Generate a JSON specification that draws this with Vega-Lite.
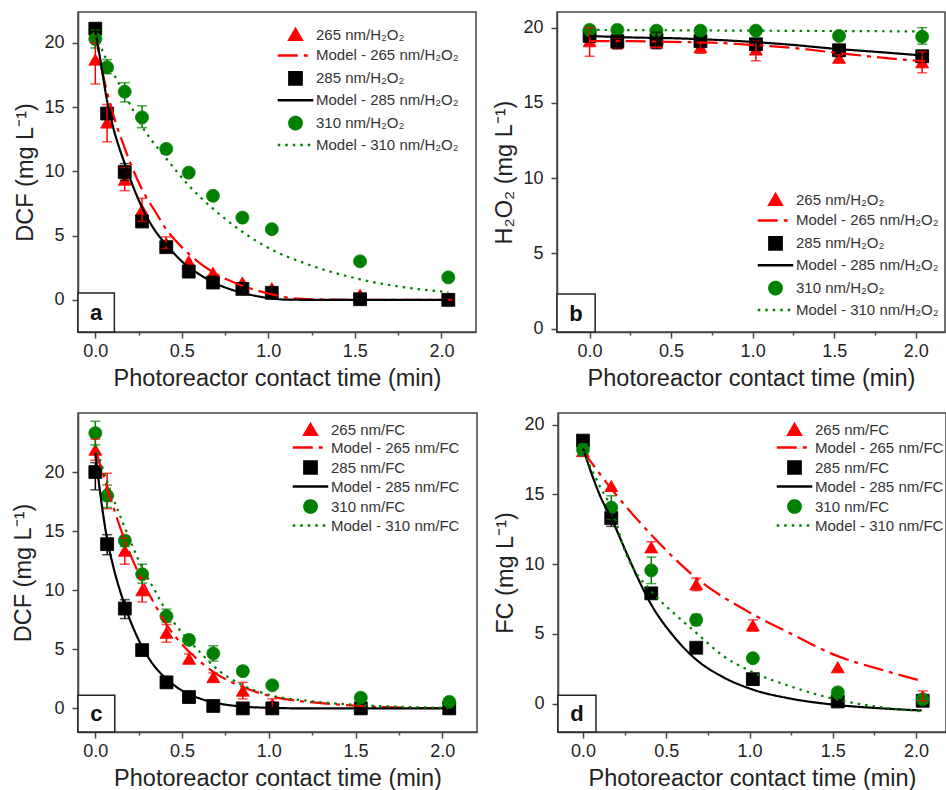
{
  "$schema": "https://vega.github.io/schema/vega-lite/v6.json",
  "padding": {"left": 11, "top": 11, "right": 0, "bottom": 0},
  "config": {
    "font": "Liberation Sans",
    "view": {"stroke": "#444", "strokeWidth": 1.5},
    "axis": {"domainColor": "#444", "domainWidth": 1.5, "tickColor": "#444", "tickWidth": 1.5, "labelColor": "#222", "titleColor": "#222", "titleFontWeight": "normal", "labelFontSize": 18, "titleFontSize": 23.5, "grid": false, "labelFont": "Liberation Sans", "titleFont": "Liberation Sans", "labelOverlap": false, "labelFlush": false}
  },
  "datasets": {
    "a_pts": [
      {"s": "265 nm/H₂O₂", "t": 0, "v": 18.7, "lo": 16.8, "hi": 20.0},
      {"s": "265 nm/H₂O₂", "t": 0.068, "v": 13.8, "lo": 12.3, "hi": 15.2},
      {"s": "265 nm/H₂O₂", "t": 0.17, "v": 9.35, "lo": 8.5, "hi": 10.3},
      {"s": "265 nm/H₂O₂", "t": 0.27, "v": 7.0, "lo": 6.1, "hi": 7.9},
      {"s": "265 nm/H₂O₂", "t": 0.41, "v": 4.4, "lo": 4.0, "hi": 4.9},
      {"s": "265 nm/H₂O₂", "t": 0.54, "v": 3.0},
      {"s": "265 nm/H₂O₂", "t": 0.68, "v": 2.1},
      {"s": "265 nm/H₂O₂", "t": 0.85, "v": 1.35},
      {"s": "265 nm/H₂O₂", "t": 1.02, "v": 0.9},
      {"s": "265 nm/H₂O₂", "t": 1.53, "v": 0.4},
      {"s": "265 nm/H₂O₂", "t": 2.04, "v": 0.0},
      {"s": "285 nm/H₂O₂", "t": 0, "v": 21.1},
      {"s": "285 nm/H₂O₂", "t": 0.068, "v": 14.5},
      {"s": "285 nm/H₂O₂", "t": 0.17, "v": 9.95, "lo": 9.3, "hi": 10.6},
      {"s": "285 nm/H₂O₂", "t": 0.27, "v": 6.1},
      {"s": "285 nm/H₂O₂", "t": 0.41, "v": 4.1},
      {"s": "285 nm/H₂O₂", "t": 0.54, "v": 2.2},
      {"s": "285 nm/H₂O₂", "t": 0.68, "v": 1.35},
      {"s": "285 nm/H₂O₂", "t": 0.85, "v": 0.85},
      {"s": "285 nm/H₂O₂", "t": 1.02, "v": 0.55},
      {"s": "285 nm/H₂O₂", "t": 1.53, "v": 0.05},
      {"s": "285 nm/H₂O₂", "t": 2.04, "v": 0.0},
      {"s": "310 nm/H₂O₂", "t": 0, "v": 20.3, "lo": 19.6, "hi": 21.0},
      {"s": "310 nm/H₂O₂", "t": 0.068, "v": 18.1, "lo": 17.6, "hi": 18.7},
      {"s": "310 nm/H₂O₂", "t": 0.17, "v": 16.2, "lo": 15.4, "hi": 16.9},
      {"s": "310 nm/H₂O₂", "t": 0.27, "v": 14.2, "lo": 13.4, "hi": 15.1},
      {"s": "310 nm/H₂O₂", "t": 0.41, "v": 11.75},
      {"s": "310 nm/H₂O₂", "t": 0.54, "v": 9.9},
      {"s": "310 nm/H₂O₂", "t": 0.68, "v": 8.1},
      {"s": "310 nm/H₂O₂", "t": 0.85, "v": 6.4},
      {"s": "310 nm/H₂O₂", "t": 1.02, "v": 5.5},
      {"s": "310 nm/H₂O₂", "t": 1.53, "v": 3.0},
      {"s": "310 nm/H₂O₂", "t": 2.04, "v": 1.75}
    ],
    "a_mod": [
      {"s": "Model - 265 nm/H₂O₂", "t": 0, "v": 20.8},
      {"s": "Model - 265 nm/H₂O₂", "t": 0.05, "v": 17.2},
      {"s": "Model - 265 nm/H₂O₂", "t": 0.1, "v": 14.6},
      {"s": "Model - 265 nm/H₂O₂", "t": 0.17, "v": 11.8},
      {"s": "Model - 265 nm/H₂O₂", "t": 0.27, "v": 8.6},
      {"s": "Model - 265 nm/H₂O₂", "t": 0.35, "v": 6.8},
      {"s": "Model - 265 nm/H₂O₂", "t": 0.41, "v": 5.5},
      {"s": "Model - 265 nm/H₂O₂", "t": 0.5, "v": 4.1},
      {"s": "Model - 265 nm/H₂O₂", "t": 0.6, "v": 2.9},
      {"s": "Model - 265 nm/H₂O₂", "t": 0.7, "v": 2.0},
      {"s": "Model - 265 nm/H₂O₂", "t": 0.85, "v": 1.1},
      {"s": "Model - 265 nm/H₂O₂", "t": 1.0, "v": 0.5},
      {"s": "Model - 265 nm/H₂O₂", "t": 1.1, "v": 0.2},
      {"s": "Model - 265 nm/H₂O₂", "t": 1.25, "v": 0.05},
      {"s": "Model - 265 nm/H₂O₂", "t": 1.5, "v": 0.0},
      {"s": "Model - 265 nm/H₂O₂", "t": 2.06, "v": 0.0},
      {"s": "Model - 285 nm/H₂O₂", "t": 0, "v": 21.0},
      {"s": "Model - 285 nm/H₂O₂", "t": 0.03, "v": 18.6},
      {"s": "Model - 285 nm/H₂O₂", "t": 0.068, "v": 15.5},
      {"s": "Model - 285 nm/H₂O₂", "t": 0.1, "v": 13.6},
      {"s": "Model - 285 nm/H₂O₂", "t": 0.17, "v": 10.6},
      {"s": "Model - 285 nm/H₂O₂", "t": 0.27, "v": 7.2},
      {"s": "Model - 285 nm/H₂O₂", "t": 0.35, "v": 5.3},
      {"s": "Model - 285 nm/H₂O₂", "t": 0.41, "v": 4.3},
      {"s": "Model - 285 nm/H₂O₂", "t": 0.5, "v": 3.0},
      {"s": "Model - 285 nm/H₂O₂", "t": 0.6, "v": 2.0},
      {"s": "Model - 285 nm/H₂O₂", "t": 0.7, "v": 1.25},
      {"s": "Model - 285 nm/H₂O₂", "t": 0.85, "v": 0.55},
      {"s": "Model - 285 nm/H₂O₂", "t": 1.0, "v": 0.15},
      {"s": "Model - 285 nm/H₂O₂", "t": 1.1, "v": 0.02},
      {"s": "Model - 285 nm/H₂O₂", "t": 1.3, "v": 0.0},
      {"s": "Model - 285 nm/H₂O₂", "t": 2.04, "v": 0.0},
      {"s": "Model - 310 nm/H₂O₂", "t": 0, "v": 20.6},
      {"s": "Model - 310 nm/H₂O₂", "t": 0.068, "v": 18.6},
      {"s": "Model - 310 nm/H₂O₂", "t": 0.17, "v": 16.0},
      {"s": "Model - 310 nm/H₂O₂", "t": 0.27, "v": 13.5},
      {"s": "Model - 310 nm/H₂O₂", "t": 0.41, "v": 11.0},
      {"s": "Model - 310 nm/H₂O₂", "t": 0.54, "v": 8.9},
      {"s": "Model - 310 nm/H₂O₂", "t": 0.68, "v": 7.1},
      {"s": "Model - 310 nm/H₂O₂", "t": 0.85, "v": 5.3},
      {"s": "Model - 310 nm/H₂O₂", "t": 1.02, "v": 3.9},
      {"s": "Model - 310 nm/H₂O₂", "t": 1.2, "v": 2.9},
      {"s": "Model - 310 nm/H₂O₂", "t": 1.53, "v": 1.6},
      {"s": "Model - 310 nm/H₂O₂", "t": 1.8, "v": 0.95},
      {"s": "Model - 310 nm/H₂O₂", "t": 2.04, "v": 0.6}
    ],
    "a_box": [{"t": -0.1, "t2": 0.11, "v": -2.5, "v2": 0.54}],
    "a_lab": [{"t": 0.005, "v": -1.0, "lab": "a"}],
    "b_pts": [
      {"s": "265 nm/H₂O₂", "t": 0, "v": 19.1, "lo": 18.1, "hi": 20.0},
      {"s": "265 nm/H₂O₂", "t": 0.17, "v": 19.0, "lo": 18.6, "hi": 19.3},
      {"s": "265 nm/H₂O₂", "t": 0.41, "v": 19.0, "lo": 18.7, "hi": 19.3},
      {"s": "265 nm/H₂O₂", "t": 0.68, "v": 18.7, "lo": 18.3, "hi": 19.0},
      {"s": "265 nm/H₂O₂", "t": 1.02, "v": 18.55, "lo": 17.8, "hi": 19.1},
      {"s": "265 nm/H₂O₂", "t": 1.53, "v": 18.0, "lo": 17.8, "hi": 18.2},
      {"s": "265 nm/H₂O₂", "t": 2.04, "v": 17.7, "lo": 17.0, "hi": 18.4},
      {"s": "285 nm/H₂O₂", "t": 0, "v": 19.45},
      {"s": "285 nm/H₂O₂", "t": 0.17, "v": 19.1, "lo": 18.6, "hi": 19.5},
      {"s": "285 nm/H₂O₂", "t": 0.41, "v": 19.2, "lo": 18.6, "hi": 19.7},
      {"s": "285 nm/H₂O₂", "t": 0.68, "v": 19.1},
      {"s": "285 nm/H₂O₂", "t": 1.02, "v": 18.9},
      {"s": "285 nm/H₂O₂", "t": 1.53, "v": 18.5},
      {"s": "285 nm/H₂O₂", "t": 2.04, "v": 18.1},
      {"s": "310 nm/H₂O₂", "t": 0, "v": 19.85},
      {"s": "310 nm/H₂O₂", "t": 0.17, "v": 19.85},
      {"s": "310 nm/H₂O₂", "t": 0.41, "v": 19.8},
      {"s": "310 nm/H₂O₂", "t": 0.68, "v": 19.8},
      {"s": "310 nm/H₂O₂", "t": 1.02, "v": 19.8},
      {"s": "310 nm/H₂O₂", "t": 1.53, "v": 19.45},
      {"s": "310 nm/H₂O₂", "t": 2.04, "v": 19.4, "lo": 18.9, "hi": 20.0}
    ],
    "b_mod": [
      {"s": "Model - 265 nm/H₂O₂", "t": 0, "v": 19.1},
      {"s": "Model - 265 nm/H₂O₂", "t": 0.25, "v": 19.1},
      {"s": "Model - 265 nm/H₂O₂", "t": 0.5, "v": 19.05},
      {"s": "Model - 265 nm/H₂O₂", "t": 0.75, "v": 19.0},
      {"s": "Model - 265 nm/H₂O₂", "t": 1.0, "v": 18.85},
      {"s": "Model - 265 nm/H₂O₂", "t": 1.25, "v": 18.65},
      {"s": "Model - 265 nm/H₂O₂", "t": 1.5, "v": 18.35},
      {"s": "Model - 265 nm/H₂O₂", "t": 1.75, "v": 18.05},
      {"s": "Model - 265 nm/H₂O₂", "t": 2.06, "v": 17.75},
      {"s": "Model - 285 nm/H₂O₂", "t": 0, "v": 19.45},
      {"s": "Model - 285 nm/H₂O₂", "t": 0.25, "v": 19.35},
      {"s": "Model - 285 nm/H₂O₂", "t": 0.5, "v": 19.3},
      {"s": "Model - 285 nm/H₂O₂", "t": 0.75, "v": 19.2},
      {"s": "Model - 285 nm/H₂O₂", "t": 1.0, "v": 19.05},
      {"s": "Model - 285 nm/H₂O₂", "t": 1.25, "v": 18.85},
      {"s": "Model - 285 nm/H₂O₂", "t": 1.5, "v": 18.6},
      {"s": "Model - 285 nm/H₂O₂", "t": 1.75, "v": 18.4},
      {"s": "Model - 285 nm/H₂O₂", "t": 2.04, "v": 18.15},
      {"s": "Model - 310 nm/H₂O₂", "t": 0, "v": 19.85},
      {"s": "Model - 310 nm/H₂O₂", "t": 1.0, "v": 19.8},
      {"s": "Model - 310 nm/H₂O₂", "t": 2.04, "v": 19.75}
    ],
    "b_box": [{"t": -0.2, "t2": 0.034, "v": -0.22, "v2": 2.3}],
    "b_lab": [{"t": -0.083, "v": 0.95, "lab": "b"}],
    "c_pts": [
      {"s": "265 nm/FC", "t": 0, "v": 21.9, "lo": 21.0, "hi": 22.8},
      {"s": "265 nm/FC", "t": 0.068, "v": 18.4, "lo": 16.9, "hi": 19.9},
      {"s": "265 nm/FC", "t": 0.17, "v": 13.35, "lo": 12.2, "hi": 14.4},
      {"s": "265 nm/FC", "t": 0.27, "v": 10.0, "lo": 9.0, "hi": 11.0},
      {"s": "265 nm/FC", "t": 0.41, "v": 6.4, "lo": 5.6, "hi": 7.1},
      {"s": "265 nm/FC", "t": 0.54, "v": 4.2, "lo": 3.9, "hi": 4.6},
      {"s": "265 nm/FC", "t": 0.68, "v": 2.65, "lo": 2.3, "hi": 3.0},
      {"s": "265 nm/FC", "t": 0.85, "v": 1.5, "lo": 0.8, "hi": 2.2},
      {"s": "265 nm/FC", "t": 1.02, "v": 0.35, "lo": 0.0, "hi": 0.8},
      {"s": "265 nm/FC", "t": 1.53, "v": 0.05},
      {"s": "265 nm/FC", "t": 2.04, "v": 0.0},
      {"s": "285 nm/FC", "t": 0, "v": 20.0, "lo": 18.5, "hi": 20.8},
      {"s": "285 nm/FC", "t": 0.068, "v": 13.9, "lo": 13.0, "hi": 14.7},
      {"s": "285 nm/FC", "t": 0.17, "v": 8.45, "lo": 7.6, "hi": 9.2},
      {"s": "285 nm/FC", "t": 0.27, "v": 4.93},
      {"s": "285 nm/FC", "t": 0.41, "v": 2.2},
      {"s": "285 nm/FC", "t": 0.54, "v": 0.96},
      {"s": "285 nm/FC", "t": 0.68, "v": 0.2},
      {"s": "285 nm/FC", "t": 0.85, "v": 0.0},
      {"s": "285 nm/FC", "t": 1.02, "v": 0.0},
      {"s": "285 nm/FC", "t": 1.53, "v": 0.0},
      {"s": "285 nm/FC", "t": 2.04, "v": 0.0},
      {"s": "310 nm/FC", "t": 0, "v": 23.3, "lo": 22.3, "hi": 24.3},
      {"s": "310 nm/FC", "t": 0.068, "v": 18.0, "lo": 17.0, "hi": 18.9},
      {"s": "310 nm/FC", "t": 0.17, "v": 14.2, "lo": 13.7, "hi": 14.6},
      {"s": "310 nm/FC", "t": 0.27, "v": 11.35, "lo": 10.6, "hi": 12.2},
      {"s": "310 nm/FC", "t": 0.41, "v": 7.8, "lo": 7.3, "hi": 8.4},
      {"s": "310 nm/FC", "t": 0.54, "v": 5.8},
      {"s": "310 nm/FC", "t": 0.68, "v": 4.65, "lo": 4.0, "hi": 5.3},
      {"s": "310 nm/FC", "t": 0.85, "v": 3.15, "lo": 2.8, "hi": 3.5},
      {"s": "310 nm/FC", "t": 1.02, "v": 1.95},
      {"s": "310 nm/FC", "t": 1.53, "v": 0.9},
      {"s": "310 nm/FC", "t": 2.04, "v": 0.55}
    ],
    "c_mod": [
      {"s": "Model - 265 nm/FC", "t": 0, "v": 22.0},
      {"s": "Model - 265 nm/FC", "t": 0.068, "v": 18.7},
      {"s": "Model - 265 nm/FC", "t": 0.17, "v": 14.2},
      {"s": "Model - 265 nm/FC", "t": 0.27, "v": 10.8},
      {"s": "Model - 265 nm/FC", "t": 0.35, "v": 8.6},
      {"s": "Model - 265 nm/FC", "t": 0.41, "v": 7.1},
      {"s": "Model - 265 nm/FC", "t": 0.5, "v": 5.4},
      {"s": "Model - 265 nm/FC", "t": 0.6, "v": 4.0},
      {"s": "Model - 265 nm/FC", "t": 0.7, "v": 2.9},
      {"s": "Model - 265 nm/FC", "t": 0.85, "v": 1.8},
      {"s": "Model - 265 nm/FC", "t": 1.02, "v": 1.0},
      {"s": "Model - 265 nm/FC", "t": 1.3, "v": 0.45},
      {"s": "Model - 265 nm/FC", "t": 1.53, "v": 0.2},
      {"s": "Model - 265 nm/FC", "t": 1.8, "v": 0.05},
      {"s": "Model - 265 nm/FC", "t": 2.06, "v": 0.0},
      {"s": "Model - 285 nm/FC", "t": 0, "v": 21.6},
      {"s": "Model - 285 nm/FC", "t": 0.03, "v": 18.0},
      {"s": "Model - 285 nm/FC", "t": 0.068, "v": 14.3},
      {"s": "Model - 285 nm/FC", "t": 0.1, "v": 12.2},
      {"s": "Model - 285 nm/FC", "t": 0.17, "v": 8.7},
      {"s": "Model - 285 nm/FC", "t": 0.27, "v": 5.2},
      {"s": "Model - 285 nm/FC", "t": 0.35, "v": 3.4},
      {"s": "Model - 285 nm/FC", "t": 0.41, "v": 2.5},
      {"s": "Model - 285 nm/FC", "t": 0.5, "v": 1.5},
      {"s": "Model - 285 nm/FC", "t": 0.6, "v": 0.85},
      {"s": "Model - 285 nm/FC", "t": 0.7, "v": 0.45},
      {"s": "Model - 285 nm/FC", "t": 0.85, "v": 0.15},
      {"s": "Model - 285 nm/FC", "t": 1.0, "v": 0.05},
      {"s": "Model - 285 nm/FC", "t": 1.2, "v": 0.0},
      {"s": "Model - 285 nm/FC", "t": 2.04, "v": 0.0},
      {"s": "Model - 310 nm/FC", "t": 0, "v": 22.3},
      {"s": "Model - 310 nm/FC", "t": 0.068, "v": 19.2},
      {"s": "Model - 310 nm/FC", "t": 0.17, "v": 15.3},
      {"s": "Model - 310 nm/FC", "t": 0.27, "v": 11.9},
      {"s": "Model - 310 nm/FC", "t": 0.35, "v": 9.8},
      {"s": "Model - 310 nm/FC", "t": 0.41, "v": 8.2},
      {"s": "Model - 310 nm/FC", "t": 0.5, "v": 6.4},
      {"s": "Model - 310 nm/FC", "t": 0.6, "v": 4.8},
      {"s": "Model - 310 nm/FC", "t": 0.68, "v": 3.6},
      {"s": "Model - 310 nm/FC", "t": 0.85, "v": 1.95},
      {"s": "Model - 310 nm/FC", "t": 1.0, "v": 1.15},
      {"s": "Model - 310 nm/FC", "t": 1.25, "v": 0.6},
      {"s": "Model - 310 nm/FC", "t": 1.5, "v": 0.3},
      {"s": "Model - 310 nm/FC", "t": 2.04, "v": 0.05}
    ],
    "c_box": [{"t": -0.1, "t2": 0.112, "v": -2.0, "v2": 1.12}],
    "c_lab": [{"t": 0.006, "v": -0.44, "lab": "c"}],
    "d_pts": [
      {"s": "265 nm/FC", "t": 0, "v": 18.1},
      {"s": "265 nm/FC", "t": 0.17, "v": 15.6},
      {"s": "265 nm/FC", "t": 0.41, "v": 11.2, "lo": 10.9, "hi": 11.6},
      {"s": "265 nm/FC", "t": 0.68, "v": 8.55, "lo": 8.1, "hi": 9.0},
      {"s": "265 nm/FC", "t": 1.02, "v": 5.6, "lo": 5.2, "hi": 6.0},
      {"s": "265 nm/FC", "t": 1.53, "v": 2.6},
      {"s": "265 nm/FC", "t": 2.04, "v": 0.5, "lo": 0.2, "hi": 0.9},
      {"s": "285 nm/FC", "t": 0, "v": 18.85},
      {"s": "285 nm/FC", "t": 0.17, "v": 13.3, "lo": 12.7, "hi": 13.6},
      {"s": "285 nm/FC", "t": 0.41, "v": 7.9},
      {"s": "285 nm/FC", "t": 0.68, "v": 4.0},
      {"s": "285 nm/FC", "t": 1.02, "v": 1.75},
      {"s": "285 nm/FC", "t": 1.53, "v": 0.15},
      {"s": "285 nm/FC", "t": 2.04, "v": 0.2},
      {"s": "310 nm/FC", "t": 0, "v": 18.2, "lo": 17.8, "hi": 18.6},
      {"s": "310 nm/FC", "t": 0.17, "v": 14.05, "lo": 13.2, "hi": 14.9},
      {"s": "310 nm/FC", "t": 0.41, "v": 9.55, "lo": 8.6, "hi": 10.5},
      {"s": "310 nm/FC", "t": 0.68, "v": 6.0, "lo": 5.6, "hi": 6.4},
      {"s": "310 nm/FC", "t": 1.02, "v": 3.25},
      {"s": "310 nm/FC", "t": 1.53, "v": 0.8, "lo": 0.4, "hi": 1.1},
      {"s": "310 nm/FC", "t": 2.04, "v": 0.3}
    ],
    "d_mod": [
      {"s": "Model - 265 nm/FC", "t": 0, "v": 18.1},
      {"s": "Model - 265 nm/FC", "t": 0.17, "v": 15.4},
      {"s": "Model - 265 nm/FC", "t": 0.41, "v": 12.1},
      {"s": "Model - 265 nm/FC", "t": 0.68, "v": 9.0},
      {"s": "Model - 265 nm/FC", "t": 1.02, "v": 6.4},
      {"s": "Model - 265 nm/FC", "t": 1.25, "v": 5.0},
      {"s": "Model - 265 nm/FC", "t": 1.53, "v": 3.4},
      {"s": "Model - 265 nm/FC", "t": 1.8, "v": 2.4},
      {"s": "Model - 265 nm/FC", "t": 2.04, "v": 1.6},
      {"s": "Model - 285 nm/FC", "t": 0, "v": 18.3},
      {"s": "Model - 285 nm/FC", "t": 0.104, "v": 14.86},
      {"s": "Model - 285 nm/FC", "t": 0.174, "v": 13.19},
      {"s": "Model - 285 nm/FC", "t": 0.244, "v": 11.28},
      {"s": "Model - 285 nm/FC", "t": 0.324, "v": 9.13},
      {"s": "Model - 285 nm/FC", "t": 0.404, "v": 7.22},
      {"s": "Model - 285 nm/FC", "t": 0.544, "v": 4.83},
      {"s": "Model - 285 nm/FC", "t": 0.68, "v": 3.15},
      {"s": "Model - 285 nm/FC", "t": 0.844, "v": 1.88},
      {"s": "Model - 285 nm/FC", "t": 1.02, "v": 1.0},
      {"s": "Model - 285 nm/FC", "t": 1.244, "v": 0.36},
      {"s": "Model - 285 nm/FC", "t": 1.524, "v": -0.1},
      {"s": "Model - 285 nm/FC", "t": 1.8, "v": -0.35},
      {"s": "Model - 285 nm/FC", "t": 2.034, "v": -0.5},
      {"s": "Model - 310 nm/FC", "t": 0, "v": 18.1},
      {"s": "Model - 310 nm/FC", "t": 0.1, "v": 15.6},
      {"s": "Model - 310 nm/FC", "t": 0.174, "v": 13.9},
      {"s": "Model - 310 nm/FC", "t": 0.25, "v": 11.0},
      {"s": "Model - 310 nm/FC", "t": 0.41, "v": 8.05},
      {"s": "Model - 310 nm/FC", "t": 0.544, "v": 6.5},
      {"s": "Model - 310 nm/FC", "t": 0.68, "v": 5.07},
      {"s": "Model - 310 nm/FC", "t": 0.844, "v": 3.4},
      {"s": "Model - 310 nm/FC", "t": 1.02, "v": 2.25},
      {"s": "Model - 310 nm/FC", "t": 1.244, "v": 1.24},
      {"s": "Model - 310 nm/FC", "t": 1.524, "v": 0.29},
      {"s": "Model - 310 nm/FC", "t": 1.744, "v": -0.19},
      {"s": "Model - 310 nm/FC", "t": 2.034, "v": -0.55}
    ],
    "d_box": [{"t": -0.15, "t2": 0.078, "v": -2.04, "v2": 0.6}],
    "d_lab": [{"t": -0.036, "v": -0.72, "lab": "d"}]
  },
  "resolve": {"scale": {"color": "independent", "stroke": "independent", "shape": "independent", "strokeDash": "independent"}, "legend": {"color": "independent", "stroke": "independent", "shape": "independent", "strokeDash": "independent"}},
  "spacing": 21,
  "vconcat": [
    {
      "spacing": 15,
      "resolve": {"scale": {"color": "independent", "stroke": "independent", "shape": "independent", "strokeDash": "independent"}, "legend": {"color": "independent", "stroke": "independent", "shape": "independent", "strokeDash": "independent"}},
      "hconcat": [
        {
          "width": 398, "height": 320,
          "layer": [
            {"data": {"name": "a_box"}, "mark": {"type": "rect", "fill": "white", "stroke": "#222", "strokeWidth": 1.5},
             "encoding": {
               "x": {"field": "t", "type": "quantitative", "scale": {"domain": [-0.1, 2.2], "nice": false, "zero": false}, "title": "Photoreactor contact time (min)",
                     "axis": {"values": [0, 0.25, 0.5, 0.75, 1, 1.25, 1.5, 1.75, 2], "labelExpr": "datum.value % 0.5 === 0 ? format(datum.value, '.1f') : ''", "tickSize": {"condition": {"test": "datum.value % 0.5 === 0", "value": 6}, "value": 3}, "labelPadding": 4, "titlePadding": 6}},
               "x2": {"field": "t2"},
               "y": {"field": "v", "type": "quantitative", "scale": {"domain": [-2.5, 22.4], "nice": false, "zero": false}, "title": "DCF (mg L⁻¹)",
                     "axis": {"values": [0, 2.5, 5, 7.5, 10, 12.5, 15, 17.5, 20], "labelExpr": "datum.value % 5 === 0 ? format(datum.value, 'd') : ''", "tickSize": {"condition": {"test": "datum.value % 5 === 0", "value": 6}, "value": 3}, "labelPadding": 8, "titlePadding": 6}},
               "y2": {"field": "v2"}}},
            {"data": {"name": "a_lab"}, "mark": {"type": "text", "fontSize": 22, "fontWeight": "bold", "color": "#111", "align": "center", "baseline": "middle"},
             "encoding": {"x": {"field": "t", "type": "quantitative", "title": "Photoreactor contact time (min)"}, "y": {"field": "v", "type": "quantitative", "title": "DCF (mg L⁻¹)"}, "text": {"field": "lab"}}},
            {"data": {"name": "a_pts"}, "mark": {"type": "point", "filled": true, "size": 165, "opacity": 1, "strokeWidth": 1},
             "encoding": {"x": {"field": "t", "type": "quantitative", "title": "Photoreactor contact time (min)"}, "y": {"field": "v", "type": "quantitative", "title": "DCF (mg L⁻¹)"},
               "color": {"field": "s", "type": "nominal", "scale": {"domain": ["265 nm/H₂O₂", "Model - 265 nm/H₂O₂", "285 nm/H₂O₂", "Model - 285 nm/H₂O₂", "310 nm/H₂O₂", "Model - 310 nm/H₂O₂"], "range": ["#ff0000", "#ff0000", "#000000", "#000000", "#008000", "#008000"]}, "legend": {"orient": "none", "legendX": 210, "legendY": 15, "title": null, "padding": 0, "rowPadding": 2.9, "labelOffset": 13, "symbolSize": 150, "symbolStrokeWidth": 2.5, "labelFontSize": 15, "labelFont": "Liberation Sans", "labelColor": "#333", "labelLimit": 400}},
               "stroke": {"field": "s", "type": "nominal", "scale": {"domain": ["265 nm/H₂O₂", "Model - 265 nm/H₂O₂", "285 nm/H₂O₂", "Model - 285 nm/H₂O₂", "310 nm/H₂O₂", "Model - 310 nm/H₂O₂"], "range": ["#ff0000", "#ff0000", "#000000", "#000000", "#008000", "#008000"]}, "legend": {"orient": "none", "legendX": 210, "legendY": 15, "title": null, "padding": 0, "rowPadding": 2.9, "labelOffset": 13, "symbolSize": 150, "symbolStrokeWidth": 2.5, "labelFontSize": 15, "labelFont": "Liberation Sans", "labelColor": "#333", "labelLimit": 400}},
               "shape": {"field": "s", "type": "nominal", "scale": {"domain": ["265 nm/H₂O₂", "Model - 265 nm/H₂O₂", "285 nm/H₂O₂", "Model - 285 nm/H₂O₂", "310 nm/H₂O₂", "Model - 310 nm/H₂O₂"], "range": ["triangle-up", "M-2.9,0H2.9", "square", "M-2.9,0H2.9", "circle", "M-2.9,0H2.9"]}, "legend": {"orient": "none", "legendX": 210, "legendY": 15, "title": null, "padding": 0, "rowPadding": 2.9, "labelOffset": 13, "symbolSize": 150, "symbolStrokeWidth": 2.5, "labelFontSize": 15, "labelFont": "Liberation Sans", "labelColor": "#333", "labelLimit": 400}},
               "strokeDash": {"field": "s", "type": "nominal", "scale": {"domain": ["265 nm/H₂O₂", "Model - 265 nm/H₂O₂", "285 nm/H₂O₂", "Model - 285 nm/H₂O₂", "310 nm/H₂O₂", "Model - 310 nm/H₂O₂"], "range": [[1, 0], [20, 6, 4, 6], [1, 0], [1, 0], [1, 0], [2.5, 5]]}, "legend": {"orient": "none", "legendX": 210, "legendY": 15, "title": null, "padding": 0, "rowPadding": 2.9, "labelOffset": 13, "symbolSize": 150, "symbolStrokeWidth": 2.5, "labelFontSize": 15, "labelFont": "Liberation Sans", "labelColor": "#333", "labelLimit": 400}}}},
            {"data": {"name": "a_pts"}, "mark": {"type": "rule", "strokeWidth": 1.5},
             "encoding": {"x": {"field": "t", "type": "quantitative", "title": "Photoreactor contact time (min)"}, "y": {"field": "lo", "type": "quantitative", "title": "DCF (mg L⁻¹)"}, "y2": {"field": "hi"},
               "color": {"field": "s", "type": "nominal"}}},
            {"data": {"name": "a_pts"}, "mark": {"type": "tick", "orient": "horizontal", "size": 10, "thickness": 1.5},
             "encoding": {"x": {"field": "t", "type": "quantitative", "title": "Photoreactor contact time (min)"}, "y": {"field": "lo", "type": "quantitative", "title": "DCF (mg L⁻¹)"},
               "color": {"field": "s", "type": "nominal"}}},
            {"data": {"name": "a_pts"}, "mark": {"type": "tick", "orient": "horizontal", "size": 10, "thickness": 1.5},
             "encoding": {"x": {"field": "t", "type": "quantitative", "title": "Photoreactor contact time (min)"}, "y": {"field": "hi", "type": "quantitative", "title": "DCF (mg L⁻¹)"},
               "color": {"field": "s", "type": "nominal"}}},
            {"data": {"name": "a_mod"}, "mark": {"type": "line", "strokeWidth": 2.2, "interpolate": "monotone"},
             "encoding": {"x": {"field": "t", "type": "quantitative", "title": "Photoreactor contact time (min)"}, "y": {"field": "v", "type": "quantitative", "title": "DCF (mg L⁻¹)"},
               "color": {"field": "s", "type": "nominal"},
               "strokeDash": {"field": "s", "type": "nominal"}}}
          ]
        },
        {
          "width": 388, "height": 320,
          "layer": [
            {"data": {"name": "b_box"}, "mark": {"type": "rect", "fill": "white", "stroke": "#222", "strokeWidth": 1.5},
             "encoding": {
               "x": {"field": "t", "type": "quantitative", "scale": {"domain": [-0.2, 2.18], "nice": false, "zero": false}, "title": "Photoreactor contact time (min)",
                     "axis": {"values": [0, 0.25, 0.5, 0.75, 1, 1.25, 1.5, 1.75, 2], "labelExpr": "datum.value % 0.5 === 0 ? format(datum.value, '.1f') : ''", "tickSize": {"condition": {"test": "datum.value % 0.5 === 0", "value": 6}, "value": 3}, "labelPadding": 4, "titlePadding": 6}},
               "x2": {"field": "t2"},
               "y": {"field": "v", "type": "quantitative", "scale": {"domain": [-0.22, 21.04], "nice": false, "zero": false}, "title": "H₂O₂ (mg L⁻¹)",
                     "axis": {"values": [0, 2.5, 5, 7.5, 10, 12.5, 15, 17.5, 20], "labelExpr": "datum.value % 5 === 0 ? format(datum.value, 'd') : ''", "tickSize": {"condition": {"test": "datum.value % 5 === 0", "value": 6}, "value": 3}, "labelPadding": 8, "titlePadding": 6}},
               "y2": {"field": "v2"}}},
            {"data": {"name": "b_lab"}, "mark": {"type": "text", "fontSize": 22, "fontWeight": "bold", "color": "#111", "align": "center", "baseline": "middle"},
             "encoding": {"x": {"field": "t", "type": "quantitative", "title": "Photoreactor contact time (min)"}, "y": {"field": "v", "type": "quantitative", "title": "H₂O₂ (mg L⁻¹)"}, "text": {"field": "lab"}}},
            {"data": {"name": "b_pts"}, "mark": {"type": "point", "filled": true, "size": 165, "opacity": 1, "strokeWidth": 1},
             "encoding": {"x": {"field": "t", "type": "quantitative", "title": "Photoreactor contact time (min)"}, "y": {"field": "v", "type": "quantitative", "title": "H₂O₂ (mg L⁻¹)"},
               "color": {"field": "s", "type": "nominal", "scale": {"domain": ["265 nm/H₂O₂", "Model - 265 nm/H₂O₂", "285 nm/H₂O₂", "Model - 285 nm/H₂O₂", "310 nm/H₂O₂", "Model - 310 nm/H₂O₂"], "range": ["#ff0000", "#ff0000", "#000000", "#000000", "#008000", "#008000"]}, "legend": {"orient": "none", "legendX": 211, "legendY": 180, "title": null, "padding": 0, "rowPadding": 2.9, "labelOffset": 13, "symbolSize": 150, "symbolStrokeWidth": 2.5, "labelFontSize": 15, "labelFont": "Liberation Sans", "labelColor": "#333", "labelLimit": 400}},
               "stroke": {"field": "s", "type": "nominal", "scale": {"domain": ["265 nm/H₂O₂", "Model - 265 nm/H₂O₂", "285 nm/H₂O₂", "Model - 285 nm/H₂O₂", "310 nm/H₂O₂", "Model - 310 nm/H₂O₂"], "range": ["#ff0000", "#ff0000", "#000000", "#000000", "#008000", "#008000"]}, "legend": {"orient": "none", "legendX": 211, "legendY": 180, "title": null, "padding": 0, "rowPadding": 2.9, "labelOffset": 13, "symbolSize": 150, "symbolStrokeWidth": 2.5, "labelFontSize": 15, "labelFont": "Liberation Sans", "labelColor": "#333", "labelLimit": 400}},
               "shape": {"field": "s", "type": "nominal", "scale": {"domain": ["265 nm/H₂O₂", "Model - 265 nm/H₂O₂", "285 nm/H₂O₂", "Model - 285 nm/H₂O₂", "310 nm/H₂O₂", "Model - 310 nm/H₂O₂"], "range": ["triangle-up", "M-2.9,0H2.9", "square", "M-2.9,0H2.9", "circle", "M-2.9,0H2.9"]}, "legend": {"orient": "none", "legendX": 211, "legendY": 180, "title": null, "padding": 0, "rowPadding": 2.9, "labelOffset": 13, "symbolSize": 150, "symbolStrokeWidth": 2.5, "labelFontSize": 15, "labelFont": "Liberation Sans", "labelColor": "#333", "labelLimit": 400}},
               "strokeDash": {"field": "s", "type": "nominal", "scale": {"domain": ["265 nm/H₂O₂", "Model - 265 nm/H₂O₂", "285 nm/H₂O₂", "Model - 285 nm/H₂O₂", "310 nm/H₂O₂", "Model - 310 nm/H₂O₂"], "range": [[1, 0], [20, 6, 4, 6], [1, 0], [1, 0], [1, 0], [2.5, 5]]}, "legend": {"orient": "none", "legendX": 211, "legendY": 180, "title": null, "padding": 0, "rowPadding": 2.9, "labelOffset": 13, "symbolSize": 150, "symbolStrokeWidth": 2.5, "labelFontSize": 15, "labelFont": "Liberation Sans", "labelColor": "#333", "labelLimit": 400}}}},
            {"data": {"name": "b_pts"}, "mark": {"type": "rule", "strokeWidth": 1.5},
             "encoding": {"x": {"field": "t", "type": "quantitative", "title": "Photoreactor contact time (min)"}, "y": {"field": "lo", "type": "quantitative", "title": "H₂O₂ (mg L⁻¹)"}, "y2": {"field": "hi"},
               "color": {"field": "s", "type": "nominal"}}},
            {"data": {"name": "b_pts"}, "mark": {"type": "tick", "orient": "horizontal", "size": 10, "thickness": 1.5},
             "encoding": {"x": {"field": "t", "type": "quantitative", "title": "Photoreactor contact time (min)"}, "y": {"field": "lo", "type": "quantitative", "title": "H₂O₂ (mg L⁻¹)"},
               "color": {"field": "s", "type": "nominal"}}},
            {"data": {"name": "b_pts"}, "mark": {"type": "tick", "orient": "horizontal", "size": 10, "thickness": 1.5},
             "encoding": {"x": {"field": "t", "type": "quantitative", "title": "Photoreactor contact time (min)"}, "y": {"field": "hi", "type": "quantitative", "title": "H₂O₂ (mg L⁻¹)"},
               "color": {"field": "s", "type": "nominal"}}},
            {"data": {"name": "b_mod"}, "mark": {"type": "line", "strokeWidth": 2.2, "interpolate": "monotone"},
             "encoding": {"x": {"field": "t", "type": "quantitative", "title": "Photoreactor contact time (min)"}, "y": {"field": "v", "type": "quantitative", "title": "H₂O₂ (mg L⁻¹)"},
               "color": {"field": "s", "type": "nominal"},
               "strokeDash": {"field": "s", "type": "nominal"}}}
          ]
        }
      ]
    },
    {
      "spacing": 15,
      "resolve": {"scale": {"color": "independent", "stroke": "independent", "shape": "independent", "strokeDash": "independent"}, "legend": {"color": "independent", "stroke": "independent", "shape": "independent", "strokeDash": "independent"}},
      "hconcat": [
        {
          "width": 399, "height": 319,
          "layer": [
            {"data": {"name": "c_box"}, "mark": {"type": "rect", "fill": "white", "stroke": "#222", "strokeWidth": 1.5},
             "encoding": {
               "x": {"field": "t", "type": "quantitative", "scale": {"domain": [-0.1, 2.2], "nice": false, "zero": false}, "title": "Photoreactor contact time (min)",
                     "axis": {"values": [0, 0.25, 0.5, 0.75, 1, 1.25, 1.5, 1.75, 2], "labelExpr": "datum.value % 0.5 === 0 ? format(datum.value, '.1f') : ''", "tickSize": {"condition": {"test": "datum.value % 0.5 === 0", "value": 6}, "value": 3}, "labelPadding": 4, "titlePadding": 6}},
               "x2": {"field": "t2"},
               "y": {"field": "v", "type": "quantitative", "scale": {"domain": [-2, 25], "nice": false, "zero": false}, "title": "DCF (mg L⁻¹)",
                     "axis": {"values": [0, 2.5, 5, 7.5, 10, 12.5, 15, 17.5, 20, 22.5], "labelExpr": "datum.value % 5 === 0 ? format(datum.value, 'd') : ''", "tickSize": {"condition": {"test": "datum.value % 5 === 0", "value": 6}, "value": 3}, "labelPadding": 8, "titlePadding": 8}},
               "y2": {"field": "v2"}}},
            {"data": {"name": "c_lab"}, "mark": {"type": "text", "fontSize": 22, "fontWeight": "bold", "color": "#111", "align": "center", "baseline": "middle"},
             "encoding": {"x": {"field": "t", "type": "quantitative", "title": "Photoreactor contact time (min)"}, "y": {"field": "v", "type": "quantitative", "title": "DCF (mg L⁻¹)"}, "text": {"field": "lab"}}},
            {"data": {"name": "c_pts"}, "mark": {"type": "point", "filled": true, "size": 165, "opacity": 1, "strokeWidth": 1},
             "encoding": {"x": {"field": "t", "type": "quantitative", "title": "Photoreactor contact time (min)"}, "y": {"field": "v", "type": "quantitative", "title": "DCF (mg L⁻¹)"},
               "color": {"field": "s", "type": "nominal", "scale": {"domain": ["265 nm/FC", "Model - 265 nm/FC", "285 nm/FC", "Model - 285 nm/FC", "310 nm/FC", "Model - 310 nm/FC"], "range": ["#ff0000", "#ff0000", "#000000", "#000000", "#008000", "#008000"]}, "legend": {"orient": "none", "legendX": 225, "legendY": 9, "title": null, "padding": 0, "rowPadding": 0, "labelOffset": 13, "symbolSize": 150, "symbolStrokeWidth": 2.5, "labelFontSize": 15, "labelFont": "Liberation Sans", "labelColor": "#333", "labelLimit": 400}},
               "stroke": {"field": "s", "type": "nominal", "scale": {"domain": ["265 nm/FC", "Model - 265 nm/FC", "285 nm/FC", "Model - 285 nm/FC", "310 nm/FC", "Model - 310 nm/FC"], "range": ["#ff0000", "#ff0000", "#000000", "#000000", "#008000", "#008000"]}, "legend": {"orient": "none", "legendX": 225, "legendY": 9, "title": null, "padding": 0, "rowPadding": 0, "labelOffset": 13, "symbolSize": 150, "symbolStrokeWidth": 2.5, "labelFontSize": 15, "labelFont": "Liberation Sans", "labelColor": "#333", "labelLimit": 400}},
               "shape": {"field": "s", "type": "nominal", "scale": {"domain": ["265 nm/FC", "Model - 265 nm/FC", "285 nm/FC", "Model - 285 nm/FC", "310 nm/FC", "Model - 310 nm/FC"], "range": ["triangle-up", "M-2.9,0H2.9", "square", "M-2.9,0H2.9", "circle", "M-2.9,0H2.9"]}, "legend": {"orient": "none", "legendX": 225, "legendY": 9, "title": null, "padding": 0, "rowPadding": 0, "labelOffset": 13, "symbolSize": 150, "symbolStrokeWidth": 2.5, "labelFontSize": 15, "labelFont": "Liberation Sans", "labelColor": "#333", "labelLimit": 400}},
               "strokeDash": {"field": "s", "type": "nominal", "scale": {"domain": ["265 nm/FC", "Model - 265 nm/FC", "285 nm/FC", "Model - 285 nm/FC", "310 nm/FC", "Model - 310 nm/FC"], "range": [[1, 0], [20, 6, 4, 6], [1, 0], [1, 0], [1, 0], [2.5, 5]]}, "legend": {"orient": "none", "legendX": 225, "legendY": 9, "title": null, "padding": 0, "rowPadding": 0, "labelOffset": 13, "symbolSize": 150, "symbolStrokeWidth": 2.5, "labelFontSize": 15, "labelFont": "Liberation Sans", "labelColor": "#333", "labelLimit": 400}}}},
            {"data": {"name": "c_pts"}, "mark": {"type": "rule", "strokeWidth": 1.5},
             "encoding": {"x": {"field": "t", "type": "quantitative", "title": "Photoreactor contact time (min)"}, "y": {"field": "lo", "type": "quantitative", "title": "DCF (mg L⁻¹)"}, "y2": {"field": "hi"},
               "color": {"field": "s", "type": "nominal"}}},
            {"data": {"name": "c_pts"}, "mark": {"type": "tick", "orient": "horizontal", "size": 10, "thickness": 1.5},
             "encoding": {"x": {"field": "t", "type": "quantitative", "title": "Photoreactor contact time (min)"}, "y": {"field": "lo", "type": "quantitative", "title": "DCF (mg L⁻¹)"},
               "color": {"field": "s", "type": "nominal"}}},
            {"data": {"name": "c_pts"}, "mark": {"type": "tick", "orient": "horizontal", "size": 10, "thickness": 1.5},
             "encoding": {"x": {"field": "t", "type": "quantitative", "title": "Photoreactor contact time (min)"}, "y": {"field": "hi", "type": "quantitative", "title": "DCF (mg L⁻¹)"},
               "color": {"field": "s", "type": "nominal"}}},
            {"data": {"name": "c_mod"}, "mark": {"type": "line", "strokeWidth": 2.2, "interpolate": "monotone"},
             "encoding": {"x": {"field": "t", "type": "quantitative", "title": "Photoreactor contact time (min)"}, "y": {"field": "v", "type": "quantitative", "title": "DCF (mg L⁻¹)"},
               "color": {"field": "s", "type": "nominal"},
               "strokeDash": {"field": "s", "type": "nominal"}}}
          ]
        },
        {
          "width": 388, "height": 319,
          "layer": [
            {"data": {"name": "d_box"}, "mark": {"type": "rect", "fill": "white", "stroke": "#222", "strokeWidth": 1.5},
             "encoding": {
               "x": {"field": "t", "type": "quantitative", "scale": {"domain": [-0.15, 2.18], "nice": false, "zero": false}, "title": "Photoreactor contact time (min)",
                     "axis": {"values": [0, 0.25, 0.5, 0.75, 1, 1.25, 1.5, 1.75, 2], "labelExpr": "datum.value % 0.5 === 0 ? format(datum.value, '.1f') : ''", "tickSize": {"condition": {"test": "datum.value % 0.5 === 0", "value": 6}, "value": 3}, "labelPadding": 4, "titlePadding": 6}},
               "x2": {"field": "t2"},
               "y": {"field": "v", "type": "quantitative", "scale": {"domain": [-2.04, 20.83], "nice": false, "zero": false}, "title": "FC (mg L⁻¹)",
                     "axis": {"values": [0, 2.5, 5, 7.5, 10, 12.5, 15, 17.5, 20], "labelExpr": "datum.value % 5 === 0 ? format(datum.value, 'd') : ''", "tickSize": {"condition": {"test": "datum.value % 5 === 0", "value": 6}, "value": 3}, "labelPadding": 8, "titlePadding": 6}},
               "y2": {"field": "v2"}}},
            {"data": {"name": "d_lab"}, "mark": {"type": "text", "fontSize": 22, "fontWeight": "bold", "color": "#111", "align": "center", "baseline": "middle"},
             "encoding": {"x": {"field": "t", "type": "quantitative", "title": "Photoreactor contact time (min)"}, "y": {"field": "v", "type": "quantitative", "title": "FC (mg L⁻¹)"}, "text": {"field": "lab"}}},
            {"data": {"name": "d_pts"}, "mark": {"type": "point", "filled": true, "size": 165, "opacity": 1, "strokeWidth": 1},
             "encoding": {"x": {"field": "t", "type": "quantitative", "title": "Photoreactor contact time (min)"}, "y": {"field": "v", "type": "quantitative", "title": "FC (mg L⁻¹)"},
               "color": {"field": "s", "type": "nominal", "scale": {"domain": ["265 nm/FC", "Model - 265 nm/FC", "285 nm/FC", "Model - 285 nm/FC", "310 nm/FC", "Model - 310 nm/FC"], "range": ["#ff0000", "#ff0000", "#000000", "#000000", "#008000", "#008000"]}, "legend": {"orient": "none", "legendX": 229, "legendY": 9, "title": null, "padding": 0, "rowPadding": 0, "labelOffset": 13, "symbolSize": 150, "symbolStrokeWidth": 2.5, "labelFontSize": 15, "labelFont": "Liberation Sans", "labelColor": "#333", "labelLimit": 400}},
               "stroke": {"field": "s", "type": "nominal", "scale": {"domain": ["265 nm/FC", "Model - 265 nm/FC", "285 nm/FC", "Model - 285 nm/FC", "310 nm/FC", "Model - 310 nm/FC"], "range": ["#ff0000", "#ff0000", "#000000", "#000000", "#008000", "#008000"]}, "legend": {"orient": "none", "legendX": 229, "legendY": 9, "title": null, "padding": 0, "rowPadding": 0, "labelOffset": 13, "symbolSize": 150, "symbolStrokeWidth": 2.5, "labelFontSize": 15, "labelFont": "Liberation Sans", "labelColor": "#333", "labelLimit": 400}},
               "shape": {"field": "s", "type": "nominal", "scale": {"domain": ["265 nm/FC", "Model - 265 nm/FC", "285 nm/FC", "Model - 285 nm/FC", "310 nm/FC", "Model - 310 nm/FC"], "range": ["triangle-up", "M-2.9,0H2.9", "square", "M-2.9,0H2.9", "circle", "M-2.9,0H2.9"]}, "legend": {"orient": "none", "legendX": 229, "legendY": 9, "title": null, "padding": 0, "rowPadding": 0, "labelOffset": 13, "symbolSize": 150, "symbolStrokeWidth": 2.5, "labelFontSize": 15, "labelFont": "Liberation Sans", "labelColor": "#333", "labelLimit": 400}},
               "strokeDash": {"field": "s", "type": "nominal", "scale": {"domain": ["265 nm/FC", "Model - 265 nm/FC", "285 nm/FC", "Model - 285 nm/FC", "310 nm/FC", "Model - 310 nm/FC"], "range": [[1, 0], [20, 6, 4, 6], [1, 0], [1, 0], [1, 0], [2.5, 5]]}, "legend": {"orient": "none", "legendX": 229, "legendY": 9, "title": null, "padding": 0, "rowPadding": 0, "labelOffset": 13, "symbolSize": 150, "symbolStrokeWidth": 2.5, "labelFontSize": 15, "labelFont": "Liberation Sans", "labelColor": "#333", "labelLimit": 400}}}},
            {"data": {"name": "d_pts"}, "mark": {"type": "rule", "strokeWidth": 1.5},
             "encoding": {"x": {"field": "t", "type": "quantitative", "title": "Photoreactor contact time (min)"}, "y": {"field": "lo", "type": "quantitative", "title": "FC (mg L⁻¹)"}, "y2": {"field": "hi"},
               "color": {"field": "s", "type": "nominal"}}},
            {"data": {"name": "d_pts"}, "mark": {"type": "tick", "orient": "horizontal", "size": 10, "thickness": 1.5},
             "encoding": {"x": {"field": "t", "type": "quantitative", "title": "Photoreactor contact time (min)"}, "y": {"field": "lo", "type": "quantitative", "title": "FC (mg L⁻¹)"},
               "color": {"field": "s", "type": "nominal"}}},
            {"data": {"name": "d_pts"}, "mark": {"type": "tick", "orient": "horizontal", "size": 10, "thickness": 1.5},
             "encoding": {"x": {"field": "t", "type": "quantitative", "title": "Photoreactor contact time (min)"}, "y": {"field": "hi", "type": "quantitative", "title": "FC (mg L⁻¹)"},
               "color": {"field": "s", "type": "nominal"}}},
            {"data": {"name": "d_mod"}, "mark": {"type": "line", "strokeWidth": 2.2, "interpolate": "monotone"},
             "encoding": {"x": {"field": "t", "type": "quantitative", "title": "Photoreactor contact time (min)"}, "y": {"field": "v", "type": "quantitative", "title": "FC (mg L⁻¹)"},
               "color": {"field": "s", "type": "nominal"},
               "strokeDash": {"field": "s", "type": "nominal"}}}
          ]
        }
      ]
    }
  ]
}
